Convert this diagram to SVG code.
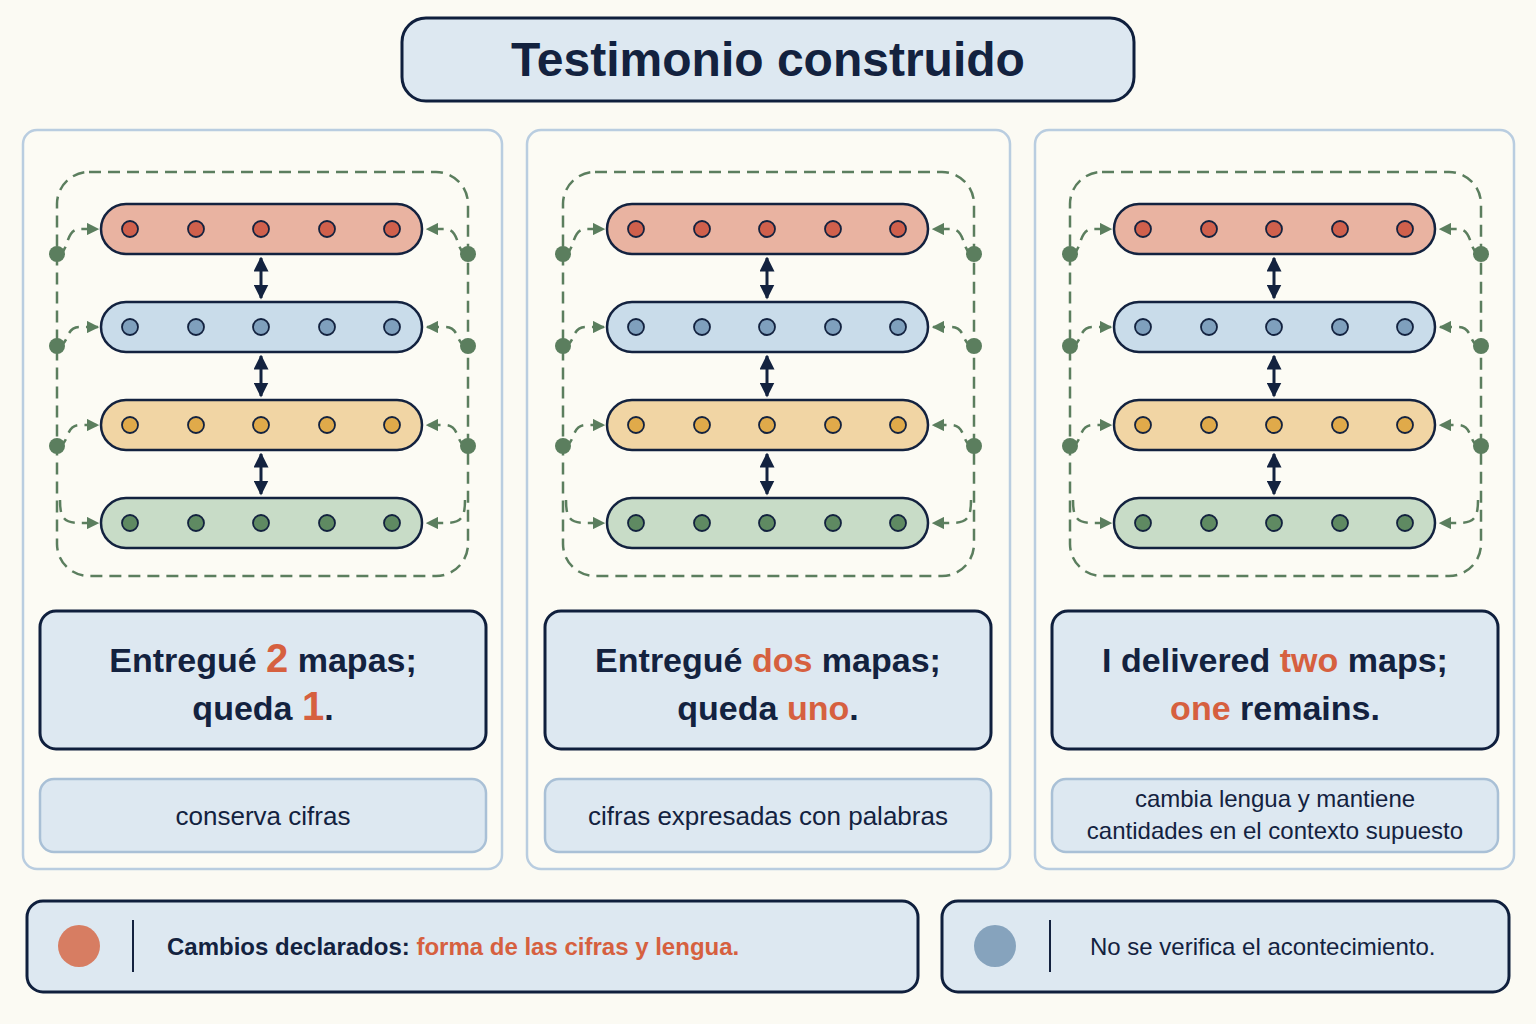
<svg xmlns="http://www.w3.org/2000/svg" xmlns:xlink="http://www.w3.org/1999/xlink" width="1536" height="1024" viewBox="0 0 1536 1024">
<style>
.panel{fill:#fcfbf4;stroke:#b9cde0;stroke-width:2.5}
.box{fill:#dde8f1;stroke:#0f1f3d;stroke-width:3}
.sbox{fill:#dde8f1;stroke:#a9c0d6;stroke-width:2.5}
.t{font-family:"Liberation Sans",Arial,sans-serif;font-weight:bold;fill:#13223f}
.s{font-family:"Liberation Sans",Arial,sans-serif;fill:#13223f}
.hl{fill:#d6603f}
.dash{fill:none;stroke:#5b7e5e;stroke-width:2.5;stroke-dasharray:12 7}
.bar{stroke:#13223f;stroke-width:2.5}
.dot{stroke:#13223f;stroke-width:1.8}
</style>
<defs>
<marker id="ga" viewBox="0 0 10 10" refX="9" refY="5" markerWidth="5" markerHeight="5" orient="auto"><path d="M0,0L10,5L0,10z" fill="#5b7e5e"/></marker>
<marker id="na" viewBox="0 0 10 10" refX="9" refY="5" markerWidth="5" markerHeight="5" orient="auto-start-reverse"><path d="M0,0L10,5L0,10z" fill="#13223f"/></marker>
<g id="diag">
<rect x="57" y="172" width="411" height="404" rx="32" class="dash"/>
<g id="bars">
<rect x="101" y="204" width="321" height="50" rx="25" fill="#e9b3a1" class="bar"/>
<rect x="101" y="302" width="321" height="50" rx="25" fill="#c9dcea" class="bar"/>
<rect x="101" y="400" width="321" height="50" rx="25" fill="#f1d5a4" class="bar"/>
<rect x="101" y="498" width="321" height="50" rx="25" fill="#c8dcc7" class="bar"/>
<g fill="#d0604c" class="dot"><circle cx="130" cy="229" r="8"/><circle cx="196" cy="229" r="8"/><circle cx="261" cy="229" r="8"/><circle cx="327" cy="229" r="8"/><circle cx="392" cy="229" r="8"/></g>
<g fill="#7fa0bd" class="dot"><circle cx="130" cy="327" r="8"/><circle cx="196" cy="327" r="8"/><circle cx="261" cy="327" r="8"/><circle cx="327" cy="327" r="8"/><circle cx="392" cy="327" r="8"/></g>
<g fill="#e0aa4a" class="dot"><circle cx="130" cy="425" r="8"/><circle cx="196" cy="425" r="8"/><circle cx="261" cy="425" r="8"/><circle cx="327" cy="425" r="8"/><circle cx="392" cy="425" r="8"/></g>
<g fill="#5f8a62" class="dot"><circle cx="130" cy="523" r="8"/><circle cx="196" cy="523" r="8"/><circle cx="261" cy="523" r="8"/><circle cx="327" cy="523" r="8"/><circle cx="392" cy="523" r="8"/></g>
</g>
<g id="conn" stroke="#13223f" stroke-width="3" fill="none">
<path d="M261,258V298" marker-start="url(#na)" marker-end="url(#na)"/>
<path d="M261,356V396" marker-start="url(#na)" marker-end="url(#na)"/>
<path d="M261,454V494" marker-start="url(#na)" marker-end="url(#na)"/>
<g class="dash" stroke-dasharray="7 5">
<path d="M57,254C70,254 64,229 80,229H98" marker-end="url(#ga)"/>
<path d="M57,346C70,346 64,327 80,327H98" marker-end="url(#ga)"/>
<path d="M57,446C70,446 64,425 80,425H98" marker-end="url(#ga)"/>
<path d="M60,500C60,518 64,523 80,523H98" marker-end="url(#ga)"/>
<path d="M468,254C455,254 461,229 445,229H427" marker-end="url(#ga)"/>
<path d="M468,346C455,346 461,327 445,327H427" marker-end="url(#ga)"/>
<path d="M468,446C455,446 461,425 445,425H427" marker-end="url(#ga)"/>
<path d="M465,500C465,518 461,523 445,523H427" marker-end="url(#ga)"/>
</g>
</g>
<g fill="#5b7e5e"><circle cx="57" cy="254" r="8"/><circle cx="57" cy="346" r="8"/><circle cx="57" cy="446" r="8"/><circle cx="468" cy="254" r="8"/><circle cx="468" cy="346" r="8"/><circle cx="468" cy="446" r="8"/></g>
</g>
</defs>
<rect width="1536" height="1024" fill="#fbfaf3"/>
<g id="title">
<rect x="402" y="18" width="732" height="83" rx="24" class="box"/>
<text x="768" y="76" text-anchor="middle" class="t" font-size="48">Testimonio construido</text>
</g>
<g id="panel1">
<rect x="23" y="130" width="479" height="739" rx="14" class="panel"/>
<use xlink:href="#diag"/>
<rect x="40" y="611" width="446" height="138" rx="16" class="box"/>
<text x="263" y="672" text-anchor="middle" class="t" font-size="34">Entregué <tspan class="hl" font-size="40">2</tspan> mapas;</text>
<text x="263" y="720" text-anchor="middle" class="t" font-size="34">queda <tspan class="hl" font-size="40">1</tspan>.</text>
<rect x="40" y="779" width="446" height="73" rx="14" class="sbox"/>
<text x="263" y="825" text-anchor="middle" class="s" font-size="26">conserva cifras</text>
</g>
<g id="panel2">
<rect x="527" y="130" width="483" height="739" rx="14" class="panel"/>
<use xlink:href="#diag" transform="translate(506,0)"/>
<rect x="545" y="611" width="446" height="138" rx="16" class="box"/>
<text x="768" y="672" text-anchor="middle" class="t" font-size="34">Entregué <tspan class="hl">dos</tspan> mapas;</text>
<text x="768" y="720" text-anchor="middle" class="t" font-size="34">queda <tspan class="hl">uno</tspan>.</text>
<rect x="545" y="779" width="446" height="73" rx="14" class="sbox"/>
<text x="768" y="825" text-anchor="middle" class="s" font-size="26">cifras expresadas con palabras</text>
</g>
<g id="panel3">
<rect x="1035" y="130" width="479" height="739" rx="14" class="panel"/>
<use xlink:href="#diag" transform="translate(1013,0)"/>
<rect x="1052" y="611" width="446" height="138" rx="16" class="box"/>
<text x="1275" y="672" text-anchor="middle" class="t" font-size="34">I delivered <tspan class="hl">two</tspan> maps;</text>
<text x="1275" y="720" text-anchor="middle" class="t" font-size="34"><tspan class="hl">one</tspan> remains.</text>
<rect x="1052" y="779" width="446" height="73" rx="14" class="sbox"/>
<text x="1275" y="807" text-anchor="middle" class="s" font-size="24">cambia lengua y mantiene</text>
<text x="1275" y="839" text-anchor="middle" class="s" font-size="24">cantidades en el contexto supuesto</text>
</g>
<g id="legend1">
<rect x="27" y="901" width="891" height="91" rx="16" class="box"/>
<circle cx="79" cy="946" r="21" fill="#d77d62"/>
<line x1="133" y1="920" x2="133" y2="972" stroke="#13223f" stroke-width="2"/>
<text x="167" y="955" class="t" font-size="24">Cambios declarados:  <tspan class="hl">forma de las cifras y lengua.</tspan></text>
</g>
<g id="legend2">
<rect x="942" y="901" width="567" height="91" rx="16" class="box"/>
<circle cx="995" cy="946" r="21" fill="#86a3bd"/>
<line x1="1050" y1="920" x2="1050" y2="972" stroke="#13223f" stroke-width="2"/>
<text x="1090" y="955" class="s" font-size="24">No se verifica el acontecimiento.</text>
</g>
</svg>
